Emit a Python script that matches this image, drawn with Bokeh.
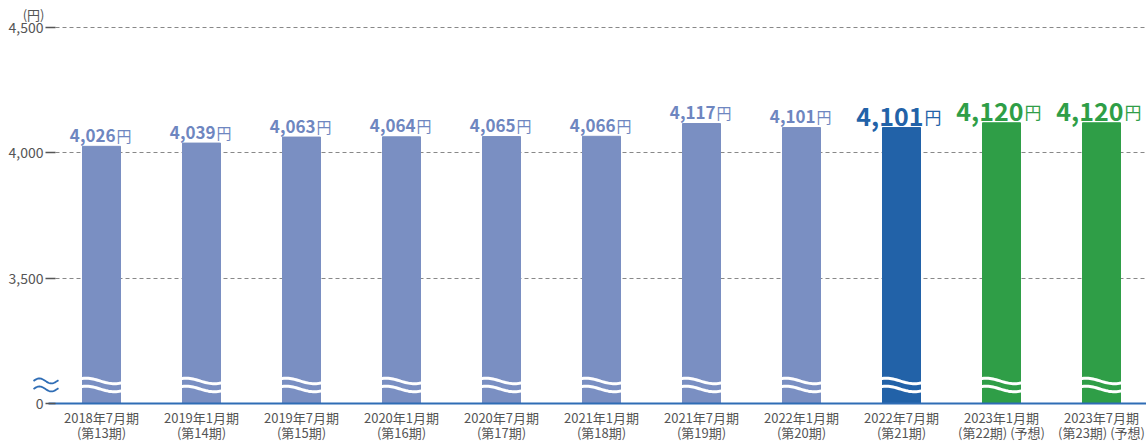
import numpy as np
from bokeh.plotting import figure
from bokeh.models import FixedTicker, Range1d, ColumnDataSource
from bokeh.core.properties import value
from bokeh.embed import file_html
from bokeh.resources import INLINE

# ---- data ----
periods = ["2018年7月期", "2019年1月期", "2019年7月期", "2020年1月期", "2020年7月期",
           "2021年1月期", "2021年7月期", "2022年1月期", "2022年7月期", "2023年1月期", "2023年7月期"]
terms = ["(第13期)", "(第14期)", "(第15期)", "(第16期)", "(第17期)", "(第18期)",
         "(第19期)", "(第20期)", "(第21期)", "(第22期) (予想)", "(第23期) (予想)"]
values = [4026, 4039, 4063, 4064, 4065, 4066, 4117, 4101, 4101, 4120, 4120]
kinds = ["past"] * 8 + ["current"] + ["forecast"] * 2
y_ticks = [0, 3500, 4000, 4500]
unit_label = "(円)"
yen = "円"

# broken axis: values from 3500 up are shown shifted down by 3000
BREAK_SHIFT = 3000


def disp(v):
    return 0 if v == 0 else v - BREAK_SHIFT


FONT = "Noto Sans CJK JP"
colors_map = {"past": "#7a8fc2", "current": "#2262a8", "forecast": "#2f9e47"}
label_colors = {"past": "#6e86c0", "current": "#2262a8", "forecast": "#2f9e47"}
AXIS_BLUE = "#2f6db5"

idx = list(range(len(values)))
tops = [disp(v) for v in values]

p = figure(width=1146, height=444, x_range=Range1d(-0.53, 10.45), y_range=Range1d(0, 1548),
           output_backend="svg", toolbar_location=None,
           min_border_left=48, min_border_right=0, min_border_top=15, min_border_bottom=41)
p.outline_line_color = None
p.background_fill_color = "white"
p.border_fill_color = "white"

# y axis
p.yaxis.ticker = FixedTicker(ticks=[disp(t) for t in y_ticks])
p.yaxis.major_label_overrides = {disp(t): f"{t:,}" for t in y_ticks}
p.yaxis.axis_line_color = None
p.yaxis.major_tick_in = 7
p.yaxis.major_tick_out = 3
p.yaxis.major_tick_line_color = "#555555"
p.yaxis.major_tick_line_width = 1.5
p.yaxis.minor_tick_line_color = None
p.yaxis.major_label_standoff = 2
p.yaxis.major_label_text_font = FONT
p.yaxis.major_label_text_font_size = "14px"
p.yaxis.major_label_text_color = "#555555"

p.ygrid.ticker = FixedTicker(ticks=[disp(t) for t in y_ticks if t > 0])
p.ygrid.grid_line_color = "#888888"
p.ygrid.grid_line_dash = "4 3"
p.ygrid.grid_line_width = 1
p.xgrid.visible = False

# x axis
p.xaxis.ticker = FixedTicker(ticks=idx)
p.xaxis.major_label_overrides = {i: f"{periods[i]}\n{terms[i]}" for i in idx}
p.xaxis.axis_line_color = AXIS_BLUE
p.xaxis.axis_line_width = 2
p.xaxis.major_tick_line_color = None
p.xaxis.minor_tick_line_color = None
p.xaxis.major_tick_in = 0
p.xaxis.major_tick_out = 0
p.xaxis.major_label_standoff = 4
p.xaxis.major_label_text_font = FONT
p.xaxis.major_label_text_font_size = "13px"
p.xaxis.major_label_text_line_height = 0.8
p.xaxis.major_label_text_color = "#555555"

# bars
src = ColumnDataSource(dict(x=idx, top=tops, color=[colors_map[k] for k in kinds]))
p.vbar(x="x", top="top", bottom=0, width=0.38, color="color", source=src)

# break waves over bars (white)
t = np.linspace(0, 1.05, 40)
wave_xs, wave_ys = [], []
for i in idx:
    for yc in (90, 58):
        wave_xs.append(list(i - 0.30 + 0.60 * t / 1.05))
        wave_ys.append(list(yc + 11 * np.sin(2 * np.pi * t)))
p.multi_line(xs=wave_xs, ys=wave_ys, line_color="white", line_width=3)

# break symbol on the axis (drawn at overlay level so it may cross the frame edge)
ta = np.linspace(0, 1.05, 30)
axis_xs, axis_ys = [], []
for yc in (90, 58):
    axis_xs.append(list(-0.68 + 0.25 * ta / 1.05))
    axis_ys.append(list(yc + 10 * np.sin(2 * np.pi * ta)))
p.multi_line(xs=axis_xs, ys=axis_ys, line_color=AXIS_BLUE, line_width=1.8, level="overlay")

# value labels
small = [i for i in idx if kinds[i] == "past"]
big = [i for i in idx if kinds[i] != "past"]
for group, fs_num, fs_yen, dx in ((small, "17px", "15px", 14), (big, "25px", "17px", 22)):
    s = ColumnDataSource(dict(x=[i for i in group], y=[tops[i] for i in group],
                              num=[f"{values[i]:,}" for i in group],
                              yen=[yen] * len(group),
                              c=[label_colors[kinds[i]] for i in group]))
    p.text(x="x", y="y", text="num", source=s, text_align="right", text_baseline="alphabetic",
           x_offset=dx, y_offset=-11, text_color="c", text_font=value(FONT),
           text_font_size=fs_num, text_font_style="bold")
    p.text(x="x", y="y", text="yen", source=s, text_align="left", text_baseline="alphabetic",
           x_offset=dx + 1, y_offset=-11, text_color="c", text_font=value(FONT),
           text_font_size=fs_yen)

# unit label above the y axis
p.text(x=[-0.53], y=[1552], text=[unit_label], x_offset=-4, text_align="right",
       text_baseline="alphabetic", text_font=value(FONT), text_font_size="13px",
       text_color="#555555", level="overlay")

open("out.html", "w").write(file_html(p, INLINE))
